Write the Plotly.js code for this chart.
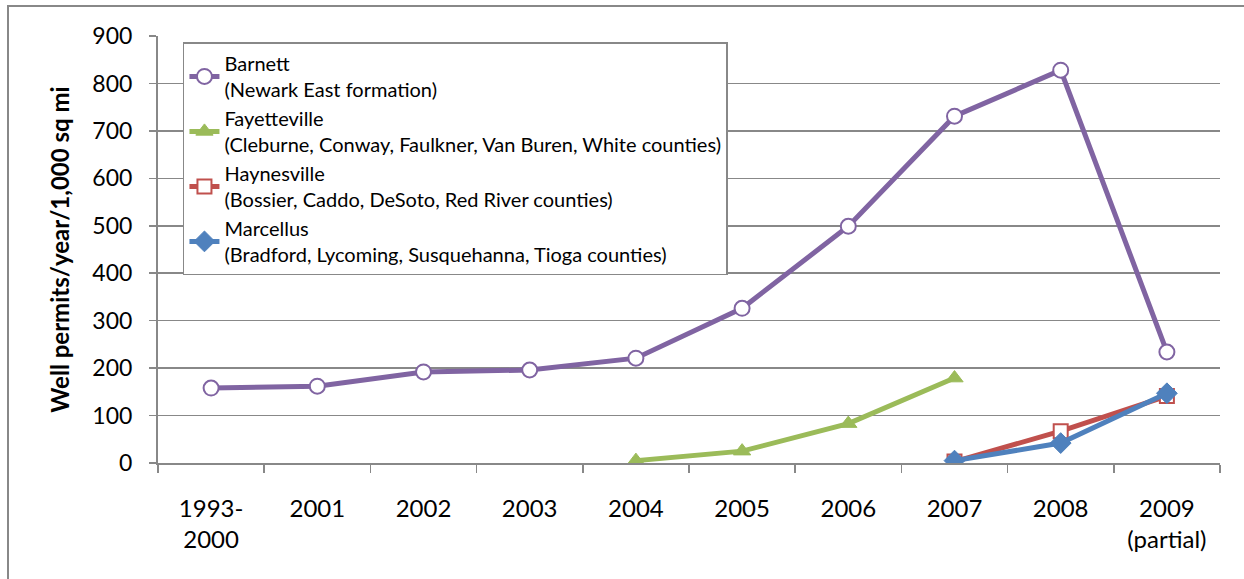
<!DOCTYPE html>
<html>
<head>
<meta charset="utf-8">
<script src="https://cdn.plot.ly/plotly-3.0.1.min.js"></script>
<style>
  html, body { margin: 0; padding: 0; background: #fff; overflow: hidden; }
  #frame { position: absolute; left: 7px; top: 5px; width: 1300px; height: 640px; border-left: 2px solid #888; border-top: 2px solid #888; pointer-events: none; z-index: 5; }
  #chart { position: absolute; left: 0; top: 0; width: 1244px; height: 579px; }
</style>
</head>
<body>
<div id="chart"></div>
<div id="frame"></div>
<script>
const categories = ["1993-<br>2000", "2001", "2002", "2003", "2004", "2005", "2006", "2007", "2008", "2009<br>(partial)"];
const barnett      = [158, 162, 192, 196, 221, 326, 499, 731, 828, 234];
const fayetteville = [null, null, null, null, 5, 25, 83, 179, null, null];
const haynesville  = [null, null, null, null, null, null, null, 3, 67, 141];
const marcellus    = [null, null, null, null, null, null, null, 5, 42, 147];

const seriesNames = [
  "Barnett<br>(Newark East formation)",
  "Fayetteville<br>(Cleburne, Conway, Faulkner, Van Buren, White counties)",
  "Haynesville<br>(Bossier, Caddo, DeSoto, Red River counties)",
  "Marcellus<br>(Bradford, Lycoming, Susquehanna, Tioga counties)"
];

const FONT = "Lato, 'Open Sans', sans-serif";

const traces = [
  {
    x: categories, y: barnett, name: seriesNames[0], type: "scatter", mode: "lines+markers",
    legendgroup: "a",
    line: { color: "#8064A2", width: 5 },
    marker: { symbol: "circle", size: 15, color: "#ffffff", line: { color: "#8064A2", width: 2 } }
  },
  {
    x: categories, y: fayetteville, name: seriesNames[1], type: "scatter", mode: "lines+markers",
    legendgroup: "b",
    line: { color: "#9BBB59", width: 5 },
    marker: { symbol: "triangle-up", size: 15, color: "#9BBB59", line: { color: "#9BBB59", width: 1 } }
  },
  {
    x: categories, y: haynesville, name: seriesNames[2], type: "scatter", mode: "lines+markers",
    legendgroup: "c",
    line: { color: "#C0504D", width: 5 },
    marker: { symbol: "square", size: 14, color: "#ffffff", line: { color: "#C0504D", width: 2 } }
  },
  {
    x: categories, y: marcellus, name: seriesNames[3], type: "scatter", mode: "lines+markers",
    legendgroup: "d",
    line: { color: "#4F81BD", width: 5 },
    marker: { symbol: "diamond", size: 16, color: "#4F81BD", line: { color: "#4F81BD", width: 1 } }
  }
];

const layout = {
  width: 1244, height: 579,
  margin: { l: 158, r: 24, t: 36, b: 115.5 },
  paper_bgcolor: "#ffffff", plot_bgcolor: "#ffffff",
  font: { family: FONT, color: "#000000", size: 23 },
  showlegend: true,
  legend: {
    x: 0.0235, y: 0.985, xanchor: "left", yanchor: "top",
    bgcolor: "#ffffff", bordercolor: "#888888", borderwidth: 1.5,
    font: { family: FONT, size: 20, color: "#000000" },
    tracegroupgap: 3,
    traceorder: "normal"
  },
  xaxis: {
    type: "category",
    range: [-0.5, 9.5],
    showline: true, linecolor: "#888888", linewidth: 2,
    showgrid: false,
    ticks: "outside", tickson: "boundaries", ticklen: 8, tickcolor: "#888888", tickwidth: 1.5,
    tickfont: { family: FONT, size: 24, color: "#000000" },
    ticklabelstandoff: 23,
    zeroline: false, fixedrange: true
  },
  yaxis: {
    range: [0, 900], dtick: 100, tick0: 0,
    showline: true, linecolor: "#888888", linewidth: 2,
    showgrid: true, gridcolor: "#888888", gridwidth: 1.5,
    ticks: "outside", ticklen: 7, tickcolor: "#888888", tickwidth: 1.5,
    tickfont: { family: FONT, size: 23, color: "#000000" },
    ticklabelstandoff: 12,
    zeroline: false, fixedrange: true,
    title: { text: "<b>Well permits/year/1,000 sq mi</b>", font: { family: FONT, size: 24, color: "#000000" }, standoff: 16 }
  }
};

Plotly.newPlot("chart", traces, layout, { displayModeBar: false, staticPlot: true });
</script>
</body>
</html>
